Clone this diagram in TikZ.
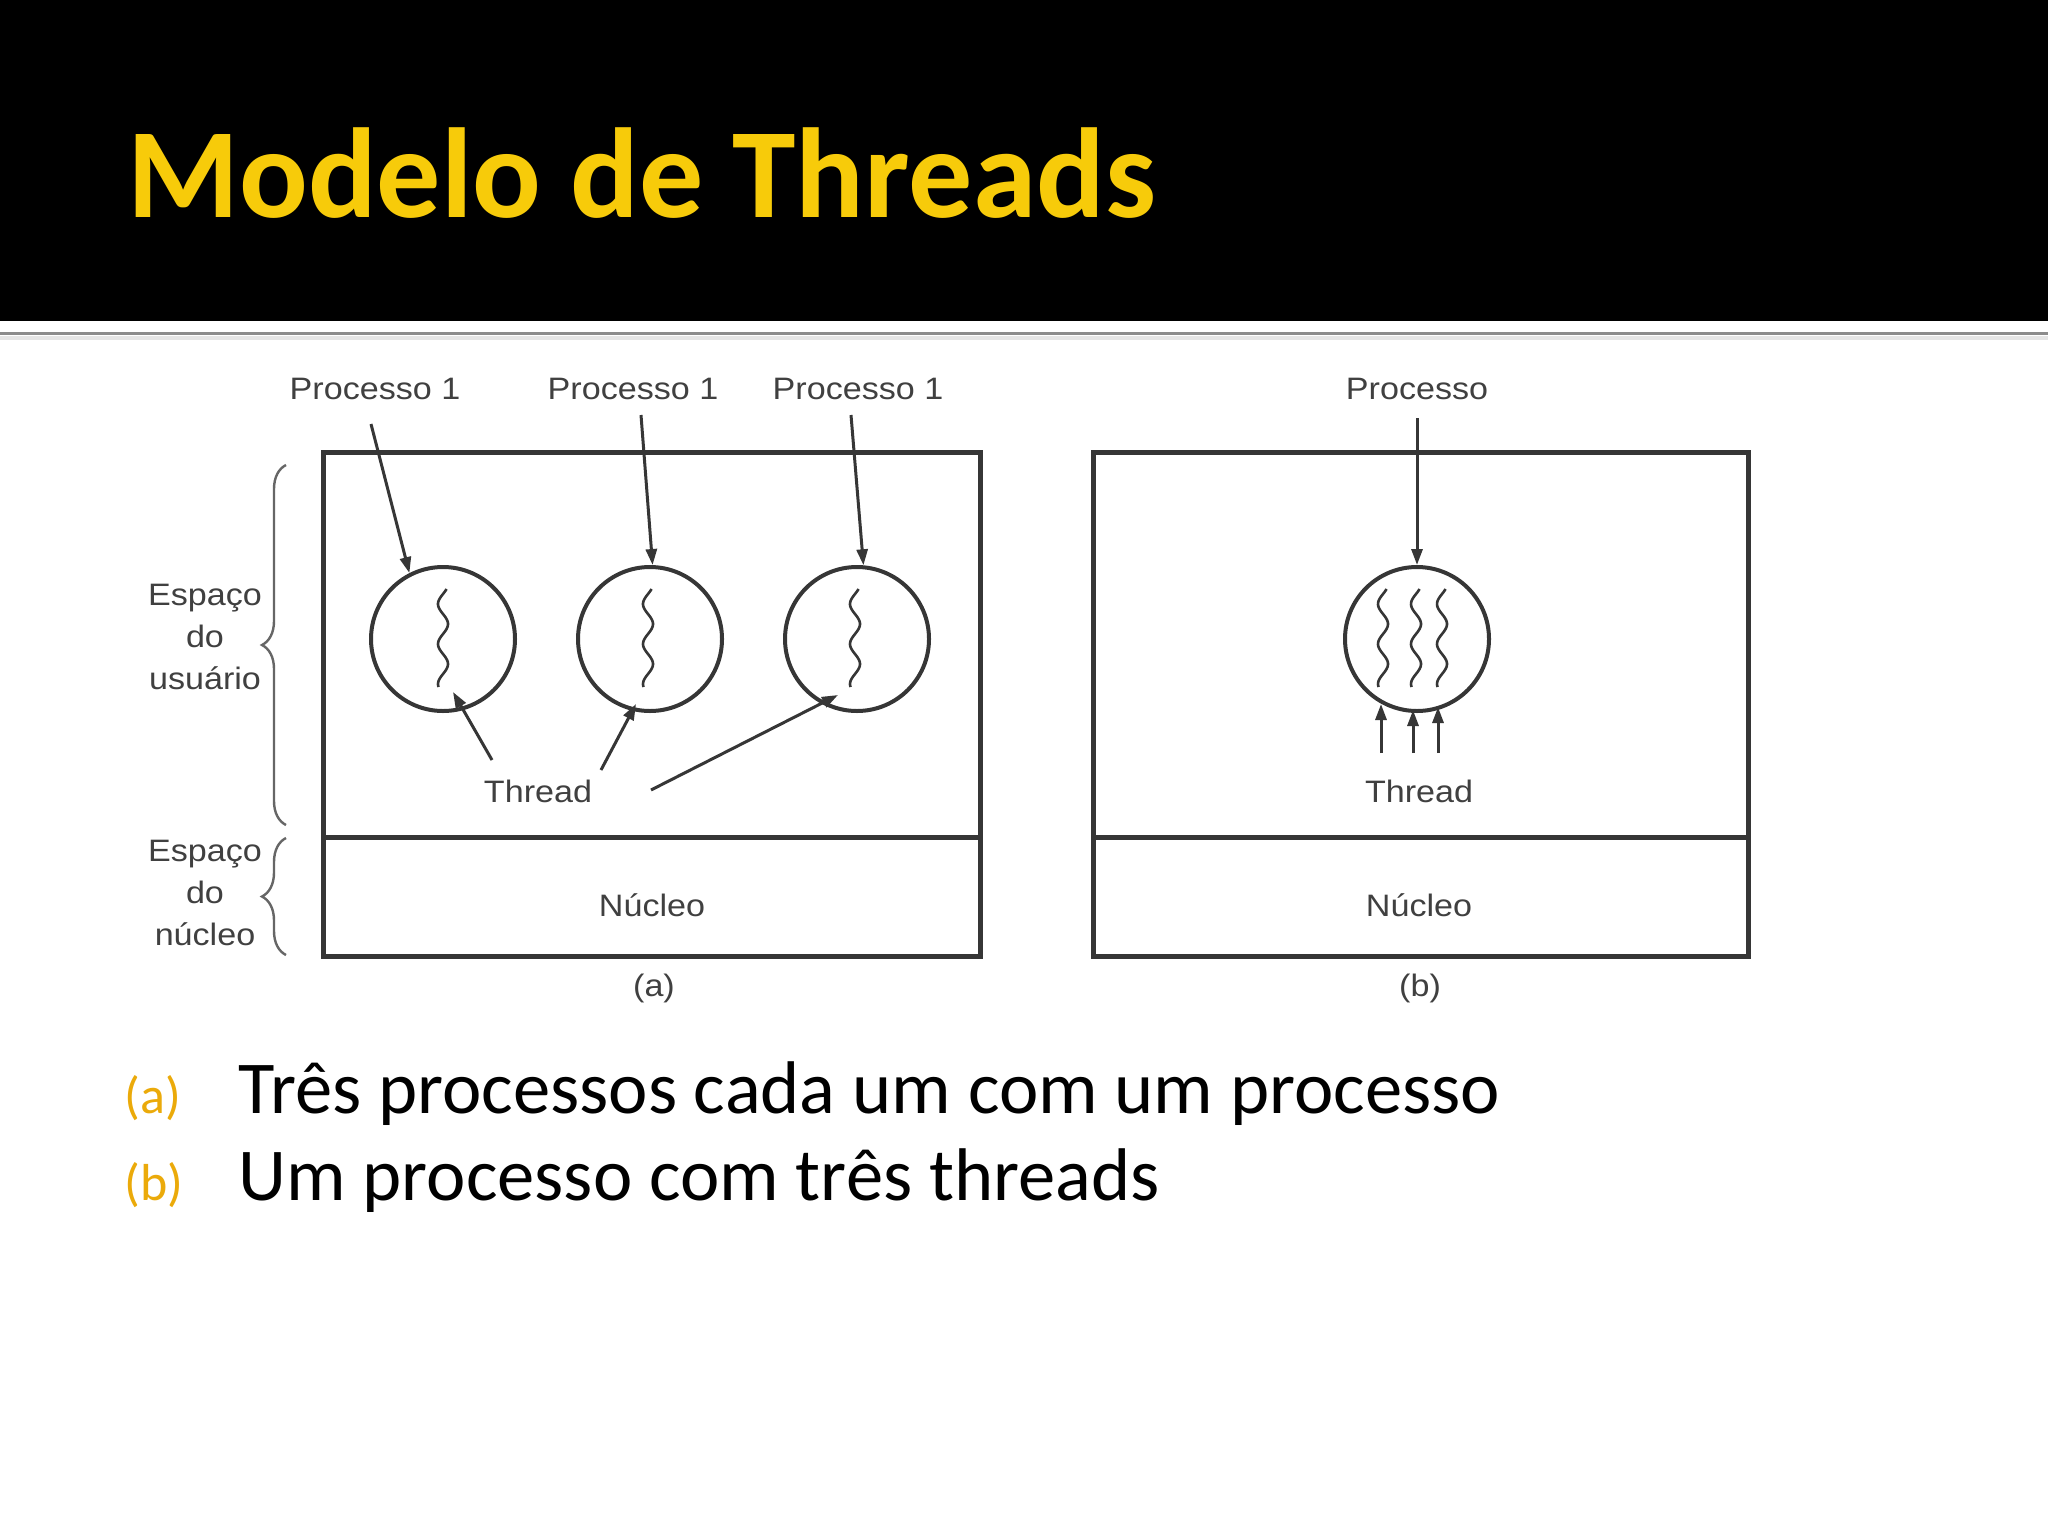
\documentclass[tikz,border=0pt]{standalone}
\usepackage{fontspec}
\setmainfont{Carlito}
\newfontfamily\figfont{Liberation Sans}[FakeStretch=1.1]
\usetikzlibrary{arrows.meta,decorations.pathreplacing}
\definecolor{titley}{HTML}{F7CB0A}
\definecolor{bulleto}{HTML}{EBAA0A}
\definecolor{figline}{HTML}{363636}
\definecolor{figtext}{HTML}{404040}
\definecolor{rulegray}{HTML}{8C8C8C}
\begin{document}
\begin{tikzpicture}[x=0.5pt,y=-0.5pt,
  figlbl/.style={font=\figfont\fontsize{15.5}{18}\selectfont, text=figtext, inner sep=0pt, anchor=base},
  boxline/.style={draw=figline, line width=2.5pt},
  proc/.style={circle, draw=figline, line width=2pt, minimum size=72pt, inner sep=0pt},
  ptr/.style={draw=figline, line width=1.5pt, -{Triangle[length=8pt,width=5.5pt]}},
  wig/.style={draw=figline, line width=1.3pt},
  brc/.style={draw=figtext!80, line width=1.2pt, decorate, decoration={brace, amplitude=12pt}},
  bodytxt/.style={anchor=base west, inner sep=0pt, font=\fontsize{37.3}{44}\selectfont},
  bullettxt/.style={anchor=base west, inner sep=0pt, text=bulleto, font=\fontsize{26}{32}\selectfont},
]
\useasboundingbox (0,0) rectangle (2048,1536);
\fill[white] (0,0) rectangle (2048,1536);
% header
\fill[black] (0,0) rectangle (2048,321);
\draw[rulegray, line width=1.75pt] (0,333.5) -- (2048,333.5);
\draw[black!10, line width=2pt] (0,338) -- (2048,338);
\node[anchor=base west, inner sep=0pt, text=titley, font=\bfseries\fontsize{64}{78}\selectfont] (title) at (127,217) {Modelo de Threads};

% ---------- figure (a) ----------
\draw[boxline] (323,452) rectangle (980,956);
\draw[boxline] (323,837) -- (980,837);
\node[proc] (c1) at (443,639) {};
\node[proc] (c2) at (650,639) {};
\node[proc] (c3) at (857,639) {};
\foreach \cx in {443,648,855}
  \draw[wig] plot[domain=0:98, samples=70, smooth] ({\cx + 5*sin(9*\x - 225)}, {589+\x});

\node[figlbl] (p1) at (375,399) {Processo 1};
\node[figlbl] (p2) at (633,399) {Processo 1};
\node[figlbl] (p3) at (858,399) {Processo 1};
\coordinate (s1) at (371,424);
\coordinate (s2) at (641,415);
\coordinate (s3) at (851,415);
\draw[ptr] (s1) -- (c1.117);
\draw[ptr] (s2) -- (c2.88);
\draw[ptr] (s3) -- (c3.85);

\node[figlbl] (tha) at (538,802) {Thread};
\coordinate (u1) at (492,760); \coordinate (v1) at (453,692);
\coordinate (u2) at (601,770); \coordinate (v2) at (636,704);
\coordinate (u3) at (651,790); \coordinate (v3) at (838,695);
\draw[ptr] (u1) -- (v1);
\draw[ptr] (u2) -- (v2);
\draw[ptr] (u3) -- (v3);

\node[figlbl] (na) at (652,916) {Núcleo};
\node[figlbl, anchor=center] (capa) at (654,988) {(a)};

% left labels and braces
\node[figlbl] (e1) at (205,605) {Espaço};
\node[figlbl] (e2) at (205,647) {do};
\node[figlbl] (e3) at (205,689) {usuário};
\node[figlbl] (k1) at (205,861) {Espaço};
\node[figlbl] (k2) at (205,903) {do};
\node[figlbl] (k3) at (205,945) {núcleo};
\draw[brc] (286,825) -- (286,465);
\draw[brc] (286,955) -- (286,838);

% ---------- figure (b) ----------
\draw[boxline] (1093,452) rectangle (1748,956);
\draw[boxline] (1093,837) -- (1748,837);
\node[proc] (cb) at (1417,639) {};
\foreach \cx in {1383,1416,1442}
  \draw[wig] plot[domain=0:98, samples=70, smooth] ({\cx + 5*sin(9*\x - 225)}, {589+\x});
\node[figlbl] (pb) at (1417,399) {Processo};
\coordinate (sb) at (1417,418);
\draw[ptr] (sb) -- (cb.north);

\coordinate (w1) at (1381,753); \coordinate (z1) at (1381,704);
\coordinate (w2) at (1413,753); \coordinate (z2) at (1413,710);
\coordinate (w3) at (1438,753); \coordinate (z3) at (1438,707);
\draw[ptr] (w1) -- (z1);
\draw[ptr] (w2) -- (z2);
\draw[ptr] (w3) -- (z3);
\node[figlbl] (thb) at (1419,802) {Thread};
\node[figlbl] (nb) at (1419,916) {Núcleo};
\node[figlbl, anchor=center] (capb) at (1420,988) {(b)};

% ---------- body text ----------
\node[bullettxt] (la) at (124,1113) {(a)};
\node[bodytxt] (ta) at (238,1113) {Três processos cada um com um processo};
\node[bullettxt] (lb) at (124,1200) {(b)};
\node[bodytxt] (tb) at (238,1200) {Um processo com três threads};
\end{tikzpicture}
\end{document}
